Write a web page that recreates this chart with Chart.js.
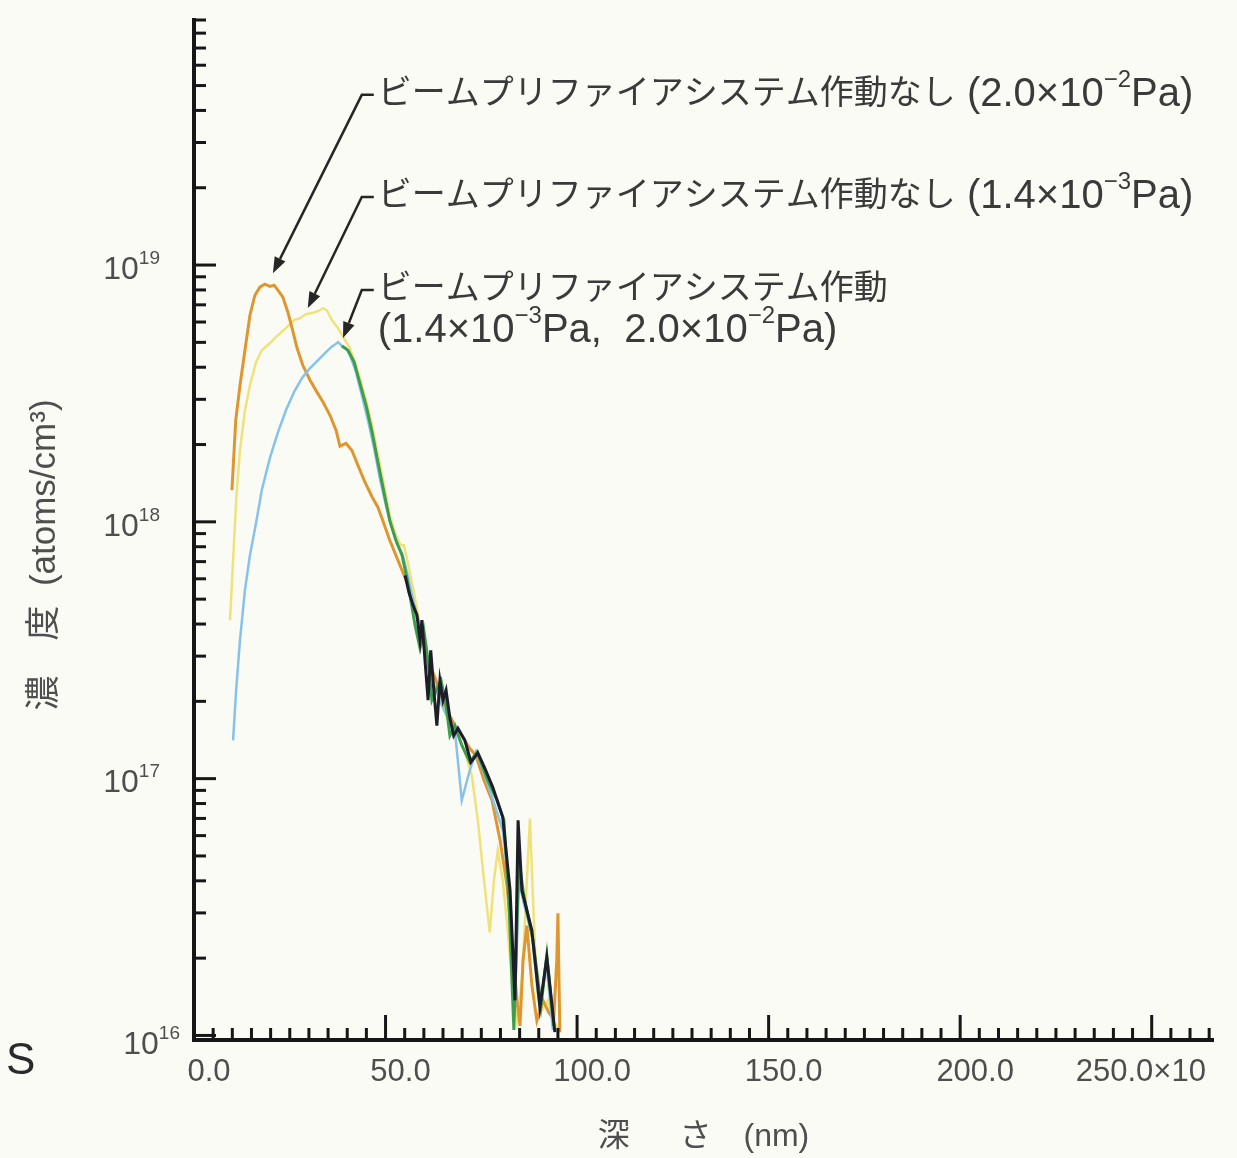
<!DOCTYPE html>
<html>
<head>
<meta charset="utf-8">
<script src="https://cdn.jsdelivr.net/npm/chart.js@4/dist/chart.umd.min.js"></script>
<style>
  html, body { margin: 0; padding: 0; background: #fbfbf6; }
  canvas { display: block; }
</style>
</head>
<body>
<canvas id="sims" width="1237" height="1158"></canvas>
<script>
// depth (x10 nm) and S concentration (atoms/cm3)

// purifier off, 2.0x10^-2 Pa (orange)
var offHighDepth = [9.9, 10.9, 12.0, 13.3, 14.6, 15.9, 17.2, 18.5, 19.8, 20.9, 21.9, 23.2, 24.5, 25.6, 26.9, 28.4, 30.3, 32.1, 33.7, 35.5, 37.1, 38.1, 39.7, 41.2, 42.8, 44.6, 46.5, 48.0, 49.3, 51.1, 52.7, 54.3, 55.6, 56.9, 58.5, 60.0, 61.6, 63.2, 64.7, 66.3, 68.1, 69.9, 72.0, 73.6, 75.7, 77.8, 79.9, 81.7, 83.0, 84.3, 85.1, 85.9, 86.9, 88.2, 89.5, 91.1, 92.6, 93.9, 94.7, 95.0, 95.5];
var offHighConc = [1.33e18, 2.49e18, 3.4e18, 4.66e18, 6.38e18, 7.63e18, 8.2e18, 8.43e18, 8.26e18, 8.35e18, 7.98e18, 7.5e18, 6.55e18, 5.68e18, 4.75e18, 4.07e18, 3.56e18, 3.2e18, 2.92e18, 2.6e18, 2.27e18, 1.97e18, 2.02e18, 1.9e18, 1.66e18, 1.43e18, 1.25e18, 1.14e18, 1.01e18, 8.48e17, 7.41e17, 6.48e17, 5.82e17, 5.04e17, 4.14e17, 3.31e17, 2.76e17, 2.41e17, 2.05e17, 1.81e17, 1.61e17, 1.47e17, 1.31e17, 1.23e17, 9.85e16, 8.23e16, 5.75e16, 3.84e16, 2.34e16, 1.37e16, 1.09e16, 1.96e16, 2.68e16, 1.57e16, 1.14e16, 1.37e16, 1.23e16, 1.16e16, 1.96e16, 2.99e16, 1.03e16];

// purifier off, 1.4x10^-3 Pa (yellow)
var offLowDepth = [9.4, 10.2, 11.0, 12.0, 13.3, 14.6, 16.2, 17.7, 19.8, 21.9, 24.0, 26.1, 27.7, 29.2, 30.8, 32.4, 33.7, 34.7, 36.0, 37.6, 39.1, 40.7, 42.0, 43.3, 44.9, 46.5, 48.0, 49.6, 51.1, 52.7, 54.0, 54.8, 55.8, 57.2, 59.0, 61.1, 63.2, 65.5, 67.3, 68.9, 70.7, 72.5, 74.1, 75.7, 77.2, 78.3, 79.3, 80.6, 81.9, 83.2, 84.3, 85.6, 86.9, 87.7, 88.5, 89.5, 90.8, 92.4, 93.9, 95.5];
var offLowConc = [4.14e17, 7.08e17, 1.21e18, 1.9e18, 2.72e18, 3.4e18, 4.19e18, 4.66e18, 4.96e18, 5.33e18, 5.68e18, 6.1e18, 6.21e18, 6.44e18, 6.5e18, 6.61e18, 6.79e18, 6.65e18, 6.1e18, 5.68e18, 5.19e18, 4.75e18, 4.19e18, 3.63e18, 2.98e18, 2.38e18, 1.82e18, 1.39e18, 1.06e18, 8.87e17, 8.11e17, 8.11e17, 6.96e17, 5.51e17, 3.96e17, 2.76e17, 2.21e17, 1.81e17, 1.61e17, 1.47e17, 1.27e17, 1.03e17, 6.88e16, 4.02e16, 2.52e16, 4.02e16, 5.26e16, 4.02e16, 2.56e16, 1.5e16, 1.14e16, 1.64e16, 4.02e16, 7.0e16, 3.36e16, 1.5e16, 1.25e16, 1.37e16, 1.14e16, 1.03e16];

// purifier on, 1.4x10^-3 Pa (blue)
var onLowDepth = [10.2, 11.0, 12.0, 13.3, 14.6, 16.2, 17.7, 19.8, 21.9, 24.0, 26.1, 28.2, 30.3, 32.4, 34.2, 35.8, 36.8, 37.6, 38.6, 39.7, 40.7, 42.3, 43.8, 45.4, 47.0, 48.5, 50.1, 51.7, 53.2, 54.5, 55.8, 57.2, 58.7, 60.3, 61.6, 63.2, 64.7, 66.3, 68.1, 69.9, 72.0, 73.6, 75.9, 78.5, 80.6, 82.5, 83.8, 84.8, 85.9, 88.2, 90.3, 91.9, 93.7];
var onLowConc = [1.41e17, 2.21e17, 3.46e17, 5.42e17, 7.41e17, 9.9e17, 1.33e18, 1.77e18, 2.23e18, 2.72e18, 3.2e18, 3.63e18, 3.97e18, 4.26e18, 4.54e18, 4.79e18, 4.9e18, 5.01e18, 4.84e18, 4.75e18, 4.46e18, 3.83e18, 3.11e18, 2.49e18, 1.94e18, 1.48e18, 1.16e18, 9.44e17, 8.11e17, 7.41e17, 6.19e17, 4.95e17, 3.96e17, 3.22e17, 2.59e17, 2.21e17, 1.93e17, 1.72e17, 1.54e17, 8.23e16, 1.08e17, 1.27e17, 1.03e17, 7.87e16, 6.29e16, 3.51e16, 1.31e16, 4.02e16, 3.36e16, 2.45e16, 1.25e16, 1.96e16, 1.05e16];

// purifier on, 2.0x10^-2 Pa (green)
var onHighDepth = [38.6, 40.2, 41.8, 43.3, 44.9, 46.5, 48.0, 49.6, 51.1, 52.7, 54.3, 55.6, 56.6, 57.7, 59.0, 60.0, 61.1, 62.1, 63.2, 64.5, 65.8, 66.8, 68.1, 69.9, 72.0, 73.9, 76.5, 79.1, 80.9, 82.2, 83.5, 84.8, 86.1, 88.5, 90.6, 92.1, 93.9];
var onHighConc = [4.84e18, 4.66e18, 4.19e18, 3.47e18, 2.85e18, 2.23e18, 1.71e18, 1.3e18, 1.01e18, 8.48e17, 7.41e17, 6.03e17, 4.95e17, 3.96e17, 3.22e17, 3.78e17, 2.89e17, 2.02e17, 2.21e17, 2.41e17, 1.93e17, 1.47e17, 1.61e17, 1.35e17, 1.16e17, 1.27e17, 1.0e17, 8.23e16, 6.88e16, 3.36e16, 1.05e16, 4.81e16, 3.51e16, 2.34e16, 1.31e16, 2.05e16, 1.09e16];

// dark trace over the noisy tail
var darkDepth = [55.1, 56.1, 57.2, 58.2, 59.0, 59.5, 60.3, 61.1, 61.8, 62.6, 63.4, 64.2, 65.0, 65.8, 66.8, 67.8, 68.9, 70.7, 72.3, 74.1, 75.9, 78.0, 80.6, 82.5, 83.8, 84.6, 85.6, 88.2, 90.3, 92.1, 94.2];
var darkConc = [6.19e17, 5.32e17, 4.73e17, 4.33e17, 3.46e17, 4.14e17, 2.89e17, 2.02e17, 3.16e17, 2.21e17, 1.61e17, 2.41e17, 2.02e17, 2.21e17, 1.72e17, 1.47e17, 1.57e17, 1.41e17, 1.16e17, 1.26e17, 1.1e17, 9.25e16, 7.07e16, 3.67e16, 1.37e16, 6.88e16, 3.67e16, 2.56e16, 1.29e16, 2.01e16, 1.03e16];

var xTickValues = [0, 50, 100, 150, 200, 250];
var xTickText = ['0.0', '50.0', '100.0', '150.0', '200.0', '250.0×10'];
var yDecades = [16, 17, 18, 19];

// labels with leader arrows; ^..^ marks superscript
var notes = [
  { tip: [20.6, 9.3e18], corner: [43.8, 4.6e19], text: ['ビームプリファイアシステム作動なし (2.0×10^−2^Pa)'] },
  { tip: [29.7, 6.8e18], corner: [43.8, 1.84e19], text: ['ビームプリファイアシステム作動なし (1.4×10^−3^Pa)'] },
  { tip: [38.9, 5.2e18], corner: [43.8, 8.0e18], text: ['ビームプリファイアシステム作動', '(1.4×10^−3^Pa,  2.0×10^−2^Pa)'] }
];

var FONT = '"Liberation Sans", "Noto Sans CJK JP", sans-serif';
var INK = '#161616';
var TEXT = '#3a3a3a';
var SOFT = '#4e4e4e';

function pts(xs, ys) {
  return xs.map(function (x, i) { return { x: x, y: ys[i] }; });
}

// draws text with ^sup^ parts; CJK runs use cjkSize, latin runs latinSize
function drawRich(ctx, str, x, y, cjkSize, latinSize) {
  str.split('^').forEach(function (part, i) {
    if (i % 2 === 1) {
      ctx.font = Math.round(latinSize * 0.6) + 'px ' + FONT;
      ctx.fillText(part, x, y - latinSize * 0.36);
      x += ctx.measureText(part).width;
      return;
    }
    var runs = part.match(/[\u3000-\u9fff\uff00-\uffef]+|[^\u3000-\u9fff\uff00-\uffef]+/g) || [];
    runs.forEach(function (r) {
      var cjk = r.charCodeAt(0) >= 0x3000;
      ctx.font = (cjk ? cjkSize : latinSize) + 'px ' + FONT;
      ctx.fillText(r, x, y);
      x += ctx.measureText(r).width;
    });
  });
}

var decor = {
  id: 'decor',
  afterDraw: function (chart) {
    var ctx = chart.ctx, a = chart.chartArea, xs = chart.scales.x, ys = chart.scales.y;
    ctx.save();
    ctx.strokeStyle = INK;
    ctx.fillStyle = INK;
    ctx.lineWidth = 3;

    // inward tick marks on x
    for (var v = 5; v <= xs.max; v += 5) {
      var px = xs.getPixelForValue(v);
      var len = v % 50 === 0 ? 25 : 12;
      ctx.beginPath(); ctx.moveTo(px, a.bottom); ctx.lineTo(px, a.bottom - len); ctx.stroke();
    }
    // inward tick marks on y (log minors)
    for (var e = 15; e <= 19; e++) {
      for (var m = 1; m <= 9; m++) {
        var val = m * Math.pow(10, e);
        if (val < ys.min || val > ys.max) continue;
        var py = ys.getPixelForValue(val);
        var l = m === 1 ? 22 : 12;
        ctx.beginPath(); ctx.moveTo(a.left, py); ctx.lineTo(a.left + l, py); ctx.stroke();
      }
    }

    // y labels 10^n
    ctx.fillStyle = SOFT;
    ctx.textBaseline = 'middle';
    ctx.textAlign = 'left';
    yDecades.forEach(function (d) {
      var py = ys.getPixelForValue(Math.pow(10, d));
      var first = d === yDecades[0];
      ctx.font = '32px ' + FONT;
      var wb = ctx.measureText('10').width;
      ctx.font = '19px ' + FONT;
      var ws = ctx.measureText(String(d)).width;
      var right = a.left - (first ? 14 : 34);
      var cy = py + (first ? 10 : 5);
      drawRich(ctx, '10^' + d + '^', right - wb - ws, cy, 32, 32);
    });

    // axis titles and corner mark
    ctx.textAlign = 'center';
    ctx.save();
    ctx.translate(45, 555);
    ctx.rotate(-Math.PI / 2);
    ctx.font = '35px ' + FONT;
    ctx.fillText('濃　度  (atoms/cm³)', 0, 0);
    ctx.restore();
    ctx.font = '32px ' + FONT;
    ctx.fillText('深　  さ　(nm)', (a.left + a.right) / 2, 1137);
    ctx.textAlign = 'left';
    ctx.fillStyle = '#2a2a2a';
    ctx.font = '44px ' + FONT;
    ctx.fillText('S', 6, 1062);

    // annotations
    ctx.strokeStyle = '#262626';
    ctx.lineWidth = 2.5;
    notes.forEach(function (n) {
      var tx = xs.getPixelForValue(n.tip[0]), ty = ys.getPixelForValue(n.tip[1]);
      var cx = xs.getPixelForValue(n.corner[0]), cy = ys.getPixelForValue(n.corner[1]);
      var ang = Math.atan2(ty - cy, tx - cx);
      var L = 16, W = 6;
      var bx = tx - L * Math.cos(ang), by = ty - L * Math.sin(ang);
      ctx.fillStyle = '#262626';
      ctx.beginPath(); ctx.moveTo(cx + 12, cy); ctx.lineTo(cx, cy); ctx.lineTo(bx, by); ctx.stroke();
      ctx.beginPath();
      ctx.moveTo(tx, ty);
      ctx.lineTo(bx + W * Math.sin(ang), by - W * Math.cos(ang));
      ctx.lineTo(bx - W * Math.sin(ang), by + W * Math.cos(ang));
      ctx.closePath(); ctx.fill();
      ctx.fillStyle = TEXT;
      n.text.forEach(function (line, i) {
        drawRich(ctx, line, cx + 16, cy + i * 41, 34, 40);
      });
    });
    ctx.restore();
  }
};

function series(xs, ys, color, width) {
  return { data: pts(xs, ys), borderColor: color, borderWidth: width, pointRadius: 0, tension: 0, fill: false };
}

new Chart(document.getElementById('sims'), {
  type: 'line',
  data: {
    datasets: [
      series(darkDepth, darkConc, '#1e1e2a', 3),
      series(onHighDepth, onHighConc, '#3e9e4e', 3),
      series(onLowDepth, onLowConc, '#86c2ea', 2.5),
      series(offHighDepth, offHighConc, '#e0962e', 3),
      series(offLowDepth, offLowConc, '#f0e27a', 2.5)
    ]
  },
  options: {
    responsive: false,
    animation: false,
    layout: { padding: { top: 20, right: 24, left: 0, bottom: 0 } },
    plugins: { legend: { display: false }, tooltip: { enabled: false } },
    scales: {
      x: {
        type: 'linear',
        min: 0,
        max: 266,
        afterFit: function (s) { s.height = 118; s.paddingLeft = 0; s.paddingRight = 0; },
        afterBuildTicks: function (s) { s.ticks = xTickValues.map(function (v) { return { value: v }; }); },
        grid: { display: false, drawTicks: false },
        border: { display: true, width: 4, color: INK },
        ticks: {
          autoSkip: false,
          maxRotation: 0,
          padding: 14,
          labelOffset: 15,
          color: SOFT,
          font: { family: FONT, size: 31 },
          callback: function (value, i) {
            // the last label carries the unit factor and sits left of its tick
            return i === xTickText.length - 1 ? xTickText[i] + '      ' : xTickText[i];
          }
        }
      },
      y: {
        type: 'logarithmic',
        min: 9.6e15,
        max: 9e19,
        afterFit: function (s) { s.width = 194; },
        grid: { display: false, drawTicks: false },
        border: { display: true, width: 4, color: INK },
        ticks: { display: false }
      }
    }
  },
  plugins: [decor]
});
</script>
</body>
</html>
